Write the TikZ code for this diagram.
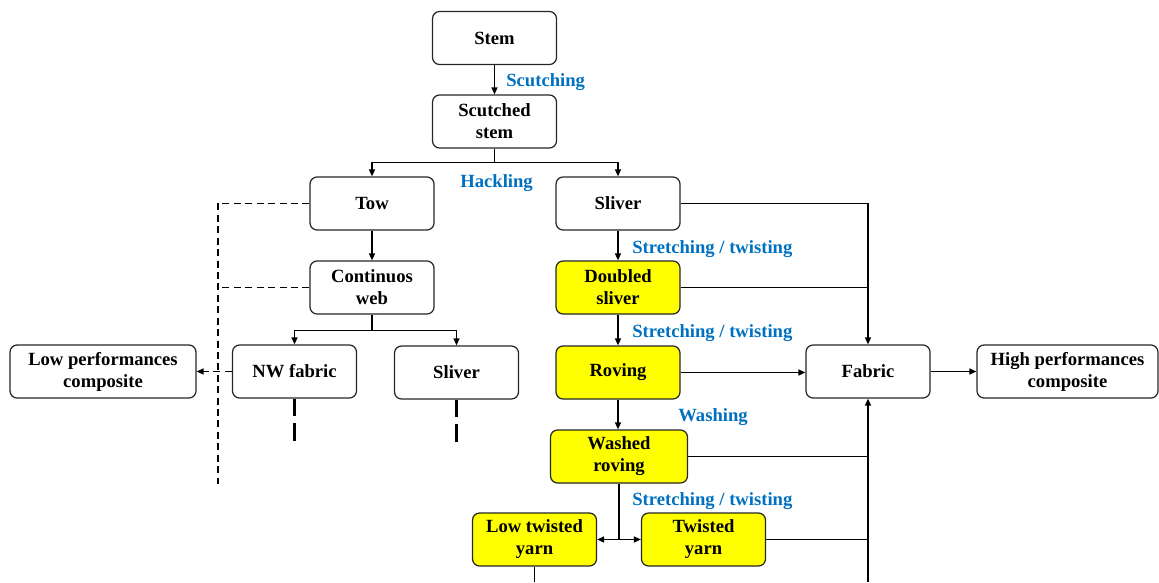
\documentclass[tikz,border=0pt]{standalone}
\usepackage{fontspec}
\setmainfont{Liberation Serif}
\usetikzlibrary{arrows.meta,positioning,calc}
\definecolor{procblue}{RGB}{0,112,192}
\definecolor{hiyellow}{RGB}{255,255,0}
\tikzset{
  box/.style={draw=black!85,rounded corners=4pt,align=center,minimum height=1.06cm,
              minimum width=2.48cm,font=\bfseries\fontsize{10.6}{12.5}\selectfont,
              inner sep=2pt,line width=0.7pt},
  ybox/.style={box,fill=hiyellow},                 % yarn route: yellow fill
  ar/.style={-{Triangle[length=1.4mm,width=1.2mm]},line width=0.8pt},
  ln/.style={line width=0.8pt},
  dsh/.style={line width=0.8pt,dash pattern=on 4pt off 2.5pt},
  stub/.style={line width=1.6pt,dash pattern=on 10pt off 4pt},
  proc/.style={font=\bfseries\fontsize{10.6}{12.5}\selectfont,text=procblue,
               anchor=west,inner sep=0pt}
}

\begin{document}
\begin{tikzpicture}[x=0.02cm,y=-0.02cm]
  \useasboundingbox (0,0) rectangle (1159,582);
  % boxes
  \node[box]  (stem)  at (494.5,38)    {Stem};
  \node[box]  (scut)  at (494.5,121.5) {Scutched\\stem};
  \node[box]  (tow)   at (372,203.5)   {Tow};
  \node[box]  (sliv)  at (618,203.5)   {Sliver};
  \node[box]  (web)   at (372,287.5)   {Continuos\\web};
  \node[ybox] (dbl)   at (618,287.5)   {Doubled\\sliver};
  \node[box,minimum width=3.72cm] (lowc) at (103,371.5) {Low performances\\composite};
  \node[box]  (nw)    at (294.5,371.5) {NW fabric};
  \node[box]  (sliv2) at (456.5,372.5) {Sliver};
  \node[ybox] (rov)   at (618,372.5)   {Roving};
  \node[box]  (fab)   at (868,371.5)   {Fabric};
  \node[box,minimum width=3.62cm] (highc) at (1067.5,371.5) {High performances\\composite};
  \node[ybox,minimum width=2.74cm] (wrov) at (619,456.5) {Washed\\roving};
  \node[ybox] (ltw)   at (534.5,539.5) {Low twisted\\yarn};
  \node[ybox] (tw)    at (703.5,539.5) {Twisted\\yarn};

  % process labels
  \node[proc] (lscut) at (506,82)  {Scutching};
  \node[proc] (lhack) at (460,183) {Hackling};
  \node[proc] (lst1)  at (632,249) {Stretching / twisting};
  \node[proc] (lst2)  at (632,333) {Stretching / twisting};
  \node[proc] (lwash) at (678,417) {Washing};
  \node[proc] (lst3)  at (632,501) {Stretching / twisting};

  % main tree
  \draw[ar] (stem) -- (scut);
  \coordinate (hj) at ($(scut.south)+(0,14)$);
  \draw[ln] (scut.south) -- (hj);
  \draw[ar] (hj) -| (tow.north);
  \draw[ar] (hj) -| (sliv.north);
  \draw[ar] (tow) -- (web);
  \coordinate (wj) at ($(web.south)+(0,16)$);
  \draw[ln] (web.south) -- (wj);
  \draw[ar] (wj) -| (nw.north);
  \draw[ar] (wj) -| (sliv2.north);
  \draw[ar] (sliv) -- (dbl);
  \draw[ar] (dbl) -- (rov);
  \draw[ar] (rov.south) -- (rov.south|-wrov.north);
  \coordinate (split) at (wrov.south|-ltw.east);
  \draw[ln] (wrov.south) -- (split);
  \draw[ar] (split) -- (ltw.east);
  \draw[ar] (split) -- (tw.west);

  % routes to fabric
  \coordinate (bot) at (0,582);
  \draw[ar] (sliv.east) -| (fab.north);
  \draw[ln] (dbl.east) -- (dbl.east-|fab.north);
  \draw[ar] (rov.east) -- (rov.east-|fab.west);
  \draw[ar] (fab) -- (highc);
  \draw[ar] (fab.south|-bot) -- (fab.south);
  \draw[ln] (wrov.east) -- (wrov.east-|fab.south);
  \draw[ln] (tw.east) -- (tw.east-|fab.south);
  \draw[ln] (ltw.south) -- (ltw.south|-bot);

  % dashed routes
  \coordinate (dl) at (218,484);
  \draw[dsh] (tow.west) -| (dl);
  \draw[dsh] (web.west) -- (web.west-|dl);
  \draw[dsh,-{Triangle[length=1.4mm,width=1.2mm]}] (nw.west) -- (lowc.east);
  \draw[stub] (nw.south) -- ++(0,42);
  \draw[stub] (sliv2.south) -- ++(0,42);
\end{tikzpicture}
\end{document}
